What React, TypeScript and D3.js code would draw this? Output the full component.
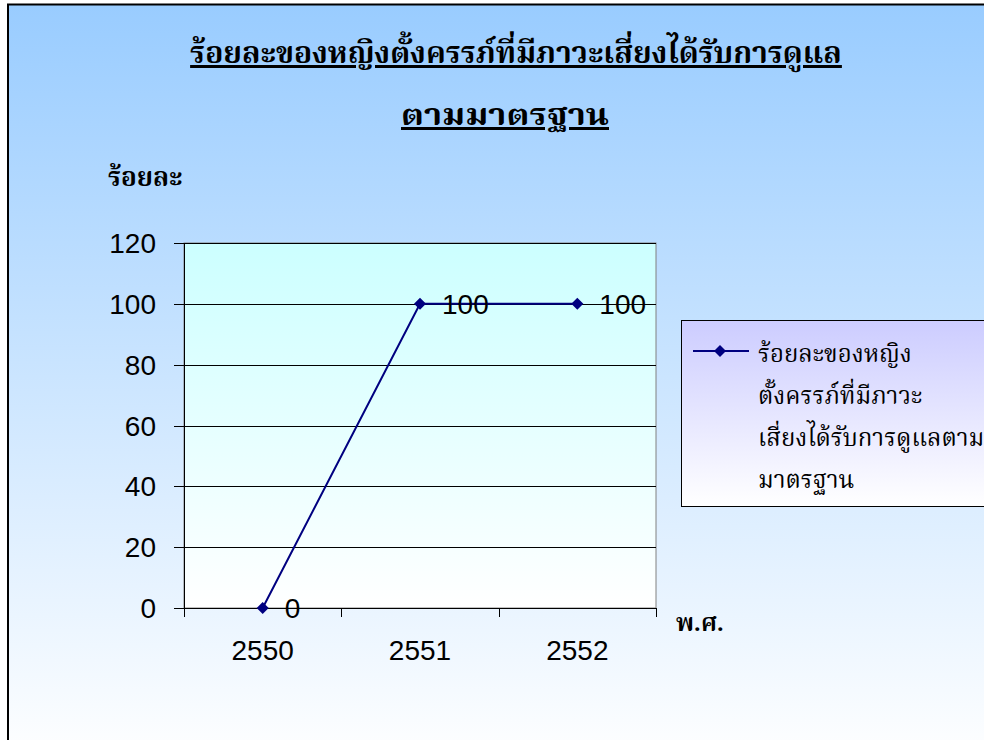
import React from 'react';
import * as d3 from 'd3';

const years = ['2550', '2551', '2552'];
const values = [0, 100, 100];
const yTicks = [0, 20, 40, 60, 80, 100, 120];
const titleLines = ['ร้อยละของหญิงตั้งครรภ์ที่มีภาวะเสี่ยงได้รับการดูแล', 'ตามมาตรฐาน'];
const legendLines = ['ร้อยละของหญิง', 'ตั้งครรภ์ที่มีภาวะ', 'เสี่ยงได้รับการดูแลตาม', 'มาตรฐาน'];
const yTitle = 'ร้อยละ';
const xTitle = 'พ.ศ.';

const W = 984;
const H = 740;
const plot = { left: 184, top: 243, right: 656, bottom: 608 };
const thaiFont = "'Angsana New', 'Noto Serif Thai', 'Noto Sans Thai', 'Tlwg Typo', 'Garuda', serif";
const numFont = "Arial, 'Liberation Sans', sans-serif";
const navy = '#000080';

const App: React.FC = () => {
  const x = d3.scaleBand<string>().domain(years).range([plot.left, plot.right]);
  const y = d3.scaleLinear().domain([0, 120]).range([plot.bottom, plot.top]);

  const line = d3.line<number>()
    .x((_, i) => (x(years[i]) || 0) + x.bandwidth() / 2)
    .y(d => y(d));

  const diamond = (cx: number, cy: number, r = 6) =>
    `M${cx},${cy - r}L${cx + r},${cy}L${cx},${cy + r}L${cx - r},${cy}Z`;

  const boundaries = [...years.map(c => x(c) || 0), plot.right];

  return (
    <div style={{ position: 'absolute', left: 0, top: 0 }}>
      <svg width={W} height={H} style={{ display: 'block' }}>
        <defs>
          <linearGradient id="bg" x1="0" y1="0" x2="0" y2="1">
            <stop offset="0%" stopColor="#99CCFF" />
            <stop offset="100%" stopColor="#FFFFFF" />
          </linearGradient>
          <linearGradient id="plotbg" x1="0" y1="0" x2="0" y2="1">
            <stop offset="0%" stopColor="#CCFFFF" />
            <stop offset="100%" stopColor="#FFFFFF" />
          </linearGradient>
          <linearGradient id="legbg" x1="0" y1="0" x2="0" y2="1">
            <stop offset="0%" stopColor="#CCCCFF" />
            <stop offset="100%" stopColor="#FFFFFF" />
          </linearGradient>
        </defs>

        {/* chart frame */}
        <rect x={8} y={4.5} width={1000} height={760} fill="url(#bg)" stroke="#000" strokeWidth={2} />

        {/* title */}
        <text x={516} y={63} textAnchor="middle" fontFamily={thaiFont}
          fontWeight="bold" fontSize={30} textDecoration="underline" fill="#000">{titleLines[0]}</text>
        <text x={505} y={125} textAnchor="middle" fontFamily={thaiFont}
          fontWeight="bold" fontSize={30} textDecoration="underline" fill="#000"
          textLength={208} lengthAdjust="spacingAndGlyphs">{titleLines[1]}</text>

        {/* plot area */}
        <rect x={plot.left} y={plot.top} width={plot.right - plot.left} height={plot.bottom - plot.top}
          fill="url(#plotbg)" stroke="#808080" strokeWidth={1} />

        {/* gridlines */}
        {yTicks.map(t => (
          <line key={t} x1={plot.left - 10} x2={plot.right} y1={Math.round(y(t)) + 0.5} y2={Math.round(y(t)) + 0.5}
            stroke="#000" strokeWidth={1} />
        ))}
        <line x1={plot.left + 0.5} x2={plot.left + 0.5} y1={plot.top} y2={plot.bottom} stroke="#000" />
        {boundaries.map((b, i) => (
          <line key={i} x1={Math.round(b) + 0.5} x2={Math.round(b) + 0.5} y1={plot.bottom} y2={plot.bottom + 9} stroke="#000" />
        ))}

        {/* y tick labels */}
        {yTicks.map(t => (
          <text key={t} x={156} y={y(t) + 10} textAnchor="end" fontFamily={numFont} fontSize={28} fill="#000">{t}</text>
        ))}

        {/* x tick labels */}
        {years.map(c => (
          <text key={c} x={(x(c) || 0) + x.bandwidth() / 2} y={660} textAnchor="middle"
            fontFamily={numFont} fontSize={28} fill="#000">{c}</text>
        ))}

        {/* series */}
        <path d={line(values) || ''} fill="none" stroke={navy} strokeWidth={2} />
        {values.map((v, i) => {
          const cx = (x(years[i]) || 0) + x.bandwidth() / 2;
          return (
            <g key={i}>
              <path d={diamond(cx, y(v))} fill={navy} />
              <text x={cx + 22} y={y(v) + 10} fontFamily={numFont} fontSize={28} fill="#000">{v}</text>
            </g>
          );
        })}

        {/* axis titles */}
        <text x={108} y={186} fontFamily={thaiFont} fontWeight="bold" fontSize={26} fill="#000">{yTitle}</text>
        <text x={676} y={631} fontFamily={thaiFont} fontWeight="bold" fontSize={24} fill="#000">{xTitle}</text>

        {/* legend */}
        <rect x={681.5} y={320.5} width={320} height={186} fill="url(#legbg)" stroke="#000" strokeWidth={1} />
        <line x1={693} x2={749} y1={351} y2={351} stroke={navy} strokeWidth={2} />
        <path d={diamond(720, 351, 6)} fill={navy} />
        {legendLines.map((t, i) => (
          <text key={i} x={758} y={362 + i * 42} fontFamily={thaiFont} fontSize={24} fill="#000">{t}</text>
        ))}
      </svg>
    </div>
  );
};

export default App;
